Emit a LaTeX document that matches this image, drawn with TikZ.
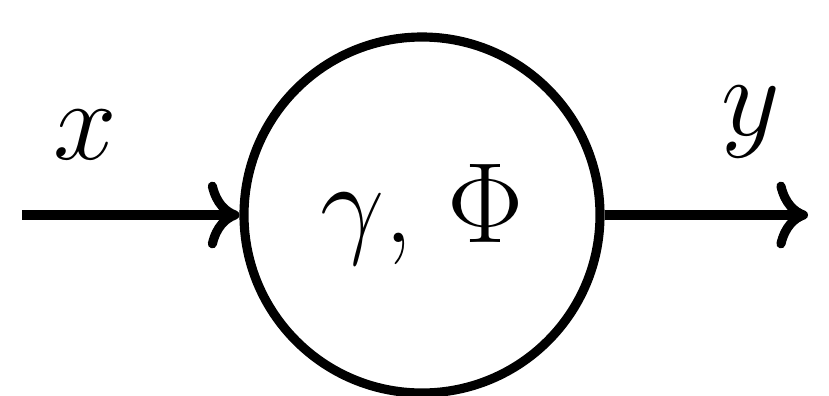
\RequirePackage{fix-cm}
\documentclass[tikz,border=0pt]{standalone}
\usepackage{amsmath,amssymb}
\usetikzlibrary{arrows.meta,positioning}

\begin{document}
\begin{tikzpicture}[x=1cm,y=1cm,>={To[length=9pt,width=19pt,line cap=round]},
 every node/.style={font=\fontsize{32.5}{38}\selectfont,inner sep=0pt},
 line width=2.6pt]
\useasboundingbox (0,0) rectangle (8.29,3.95);
\node[draw,circle,minimum size=3.56cm] (sys) at (4.22,1.80) {$\gamma$, $\Phi$};
\coordinate (in) at (0.22,1.80);
\coordinate (out) at (8.08,1.80);
\draw[->] (in)--(sys.west);
\draw[->] (sys.east)--(out);
\node (xlab) at (0.85,2.60) {$x$};
\node (ylab) at (7.51,2.73) {$y$};
\end{tikzpicture}
\end{document}
